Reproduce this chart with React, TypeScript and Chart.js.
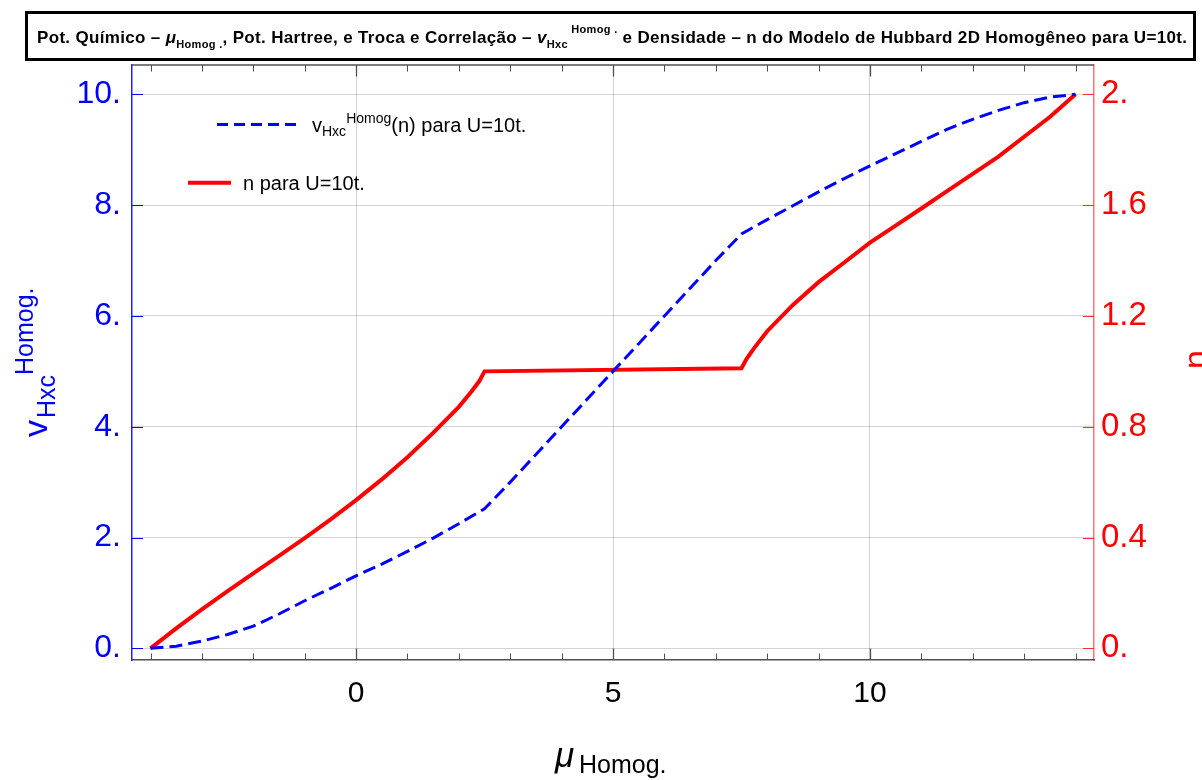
import React, { useEffect, useRef } from "react";
import { Chart, registerables } from "chart.js";

Chart.register(...registerables);

// μ grid for the v_Hxc curve and its values
const muV = [-4, -3.5, -3, -2.5, -2, -1.5, -1, -0.5, 0, 0.5, 1, 1.5, 2, 2.5, 3, 3.5, 4, 4.5, 5, 5.5, 6, 6.5, 7, 7.5, 8, 8.5, 9, 9.5, 10, 10.5, 11, 11.5, 12, 12.5, 13, 13.5, 14];
const vHxc = [0, 0.04, 0.13, 0.25, 0.4, 0.62, 0.86, 1.08, 1.31, 1.52, 1.75, 1.99, 2.25, 2.52, 3.0, 3.5, 4.0, 4.5, 5.0, 5.5, 6.0, 6.5, 7.0, 7.48, 7.74, 7.99, 8.24, 8.48, 8.71, 8.93, 9.15, 9.37, 9.55, 9.71, 9.85, 9.95, 10.0];

// μ grid for the density curve and its values
const muN = [-4, -3.5, -3, -2.5, -2, -1.5, -1, -0.5, 0, 0.5, 1, 1.5, 2, 2.25, 2.4, 2.5, 7.5, 7.6, 7.75, 8, 8.5, 9, 9.5, 10, 10.5, 11, 11.5, 12, 12.5, 13, 13.5, 14];
const nDens = [0, 0.072, 0.141, 0.207, 0.271, 0.334, 0.398, 0.465, 0.535, 0.61, 0.69, 0.778, 0.872, 0.928, 0.965, 1.0, 1.011, 1.045, 1.085, 1.145, 1.24, 1.322, 1.393, 1.465, 1.526, 1.588, 1.651, 1.713, 1.775, 1.847, 1.918, 2.0];

// ticks
const xMajorTicks = [0, 5, 10];
const xMinorTicks = [-4, -3, -2, -1, 1, 2, 3, 4, 6, 7, 8, 9, 11, 12, 13, 14];
const vTicks = [0, 2, 4, 6, 8, 10];
const vTickLabels = ["0.", "2.", "4.", "6.", "8.", "10."];
const nTicks = [0, 0.4, 0.8, 1.2, 1.6, 2];
const nTickLabels = ["0.", "0.4", "0.8", "1.2", "1.6", "2."];

const FONT = '"Liberation Sans", Arial, Helvetica, sans-serif';

function lookup(vals: number[], labels: string[], v: number) {
  for (let i = 0; i < vals.length; i++) if (Math.abs(vals[i] - v) < 1e-6) return labels[i];
  return "";
}

export default function App() {
  const ref = useRef<HTMLCanvasElement>(null);

  useEffect(() => {
    const canvas = ref.current as HTMLCanvasElement;

    const framePlugin = {
      id: "frameTicks",
      afterDatasetsDraw(chart: any) {
        const { ctx, chartArea: a, scales } = chart;
        const xs = scales.x;
        const ys = scales.y;
        const ns = scales.y2;
        ctx.save();
        ctx.strokeStyle = "#505050";
        ctx.lineWidth = 1.5;
        ctx.beginPath();
        ctx.moveTo(a.left, a.top);
        ctx.lineTo(a.right, a.top);
        ctx.stroke();
        ctx.lineWidth = 1;
        const drawX = (vals: number[], len: number) => {
          for (const v of vals) {
            const px = Math.round(xs.getPixelForValue(v)) + 0.5;
            ctx.beginPath();
            ctx.moveTo(px, a.bottom);
            ctx.lineTo(px, a.bottom - len);
            ctx.moveTo(px, a.top);
            ctx.lineTo(px, a.top + len);
            ctx.stroke();
          }
        };
        ctx.strokeStyle = "#505050";
        drawX(xMinorTicks, 6.5);
        ctx.lineWidth = 1.3;
        drawX(xMajorTicks, 11.5);
        ctx.lineWidth = 1;
        ctx.strokeStyle = "#0000ff";
        for (const v of vTicks) {
          const py = Math.round(ys.getPixelForValue(v)) + 0.5;
          ctx.beginPath();
          ctx.moveTo(a.left, py);
          ctx.lineTo(a.left + 11, py);
          ctx.stroke();
        }
        ctx.strokeStyle = "#ff3030";
        for (const n of nTicks) {
          const py = Math.round(ns.getPixelForValue(n)) + 0.5;
          ctx.beginPath();
          ctx.moveTo(a.right - 11, py);
          ctx.lineTo(a.right, py);
          ctx.stroke();
        }
        ctx.restore();
      },
    };

    const chart = new Chart(canvas, {
      type: "line",
      data: {
        datasets: [
          {
            label: "vHxc",
            data: muV.map((x, i) => ({ x, y: vHxc[i] })),
            yAxisID: "y",
            borderColor: "#0000ff",
            borderWidth: 3,
            borderDash: [13, 6],
            pointRadius: 0,
            tension: 0,
            fill: false,
            order: 1,
          },
          {
            label: "n",
            data: muN.map((x, i) => ({ x, y: nDens[i] })),
            yAxisID: "y2",
            borderColor: "#ff0000",
            borderWidth: 4,
            pointRadius: 0,
            tension: 0,
            fill: false,
            order: 2,
          },
        ],
      },
      options: {
        animation: false,
        responsive: false,
        maintainAspectRatio: false,
        layout: { padding: { top: 65, left: 0, right: 0, bottom: 0 } },
        plugins: {
          legend: { display: false },
          title: { display: false },
          tooltip: { enabled: false },
        },
        scales: {
          x: {
            type: "linear",
            position: "bottom",
            min: -4.36,
            max: 14.36,
            afterFit: (s: any) => {
              s.height = 120;
            },
            ticks: {
              stepSize: 5,
              includeBounds: false,
              color: "#000",
              font: { family: FONT, size: 30 },
              padding: 16,
              maxRotation: 0,
            },
            grid: { color: "rgba(0,0,0,0.17)", lineWidth: 1, drawTicks: false },
            border: { color: "#505050", width: 1.5 },
          },
          y: {
            type: "linear",
            position: "left",
            min: -0.21,
            max: 10.53,
            afterFit: (s: any) => {
              s.width = 132;
            },
            ticks: {
              stepSize: 2,
              includeBounds: false,
              color: "#0000ff",
              font: { family: FONT, size: 32 },
              padding: 11,
              callback: (v: any) => lookup(vTicks, vTickLabels, Number(v)),
            },
            grid: { color: "rgba(0,0,0,0.17)", lineWidth: 1, drawTicks: false },
            border: { color: "#2020ff", width: 1.5 },
          },
          y2: {
            type: "linear",
            position: "right",
            min: -0.042,
            max: 2.106,
            afterFit: (s: any) => {
              s.width = 108;
            },
            ticks: {
              stepSize: 0.4,
              includeBounds: false,
              color: "#ff0000",
              font: { family: FONT, size: 33 },
              padding: 7,
              callback: (v: any) => lookup(nTicks, nTickLabels, Number(v)),
            },
            grid: { drawOnChartArea: false, drawTicks: false },
            border: { color: "rgba(255,0,0,0.55)", width: 1.5 },
          },
        },
      },
      plugins: [framePlugin],
    } as any);

    return () => chart.destroy();
  }, []);

  return (
    <div style={{ position: "absolute", left: 0, top: 0, width: 1202, height: 780, background: "#fff", overflow: "hidden" }}>
      <canvas
        ref={ref}
        width={1202}
        height={780}
        style={{ position: "absolute", left: 0, top: 0, width: 1202, height: 780, display: "block" }}
      />
      <svg
        width={1202}
        height={780}
        style={{ position: "absolute", left: 0, top: 0, pointerEvents: "none" }}
        fontFamily={FONT}
      >
        <rect x={26.5} y={12.5} width={1168} height={47} fill="none" stroke="#000" strokeWidth={3} />
        <text x={37} y={43} fontSize={17} fontWeight="bold" fill="#000" textLength={1150} lengthAdjust="spacing">
          {"Pot. Químico – "}
          <tspan fontStyle="italic">{"μ"}</tspan>
          <tspan fontSize={11} dy={5}>{"Homog ."}</tspan>
          <tspan dy={-5}>{", Pot. Hartree, e Troca e Correlação – "}</tspan>
          <tspan fontStyle="italic">{"v"}</tspan>
          <tspan fontSize={11} dy={5}>{"Hxc"}</tspan>
          <tspan fontSize={11} dy={-15}>{" Homog ."}</tspan>
          <tspan dy={10}>{" e Densidade – n do Modelo de Hubbard 2D Homogêneo para U=10t."}</tspan>
        </text>

        {/* legend */}
        <line x1={217} y1={124.5} x2={297} y2={124.5} stroke="#0000ff" strokeWidth={3} strokeDasharray="11 6" />
        <text x={312} y={132} fontSize={20} fill="#000">
          {"v"}
          <tspan fontSize={14} dy={4}>{"Hxc"}</tspan>
          <tspan fontSize={14} dy={-13}>{"Homog"}</tspan>
          <tspan dy={9}>{"(n) para U=10t."}</tspan>
        </text>
        <line x1={188} y1={182.7} x2={231} y2={182.7} stroke="#ff0000" strokeWidth={4} />
        <text x={243} y={190} fontSize={20} fill="#000">
          {"n para U=10t."}
        </text>

        {/* x axis label */}
        <text x={555} y={767} fontSize={35} fontStyle="italic" fill="#000">
          {"μ"}
          <tspan x={579} y={773} fontSize={25} fontStyle="normal">{"Homog."}</tspan>
        </text>

        {/* left axis label */}
        <g transform="translate(47 437) rotate(-90)">
          <text x={0} y={0} fontSize={34} fill="#0000ff">
            {"v"}
            <tspan x={19} y={8} fontSize={25}>{"Hxc"}</tspan>
            <tspan x={62} y={-14} fontSize={25}>{"Homog."}</tspan>
          </text>
        </g>

        {/* right axis label */}
        <g transform="translate(1207 369) rotate(-90)">
          <text x={0} y={0} fontSize={34} fill="#ff0000">{"n"}</text>
        </g>
      </svg>
    </div>
  );
}
